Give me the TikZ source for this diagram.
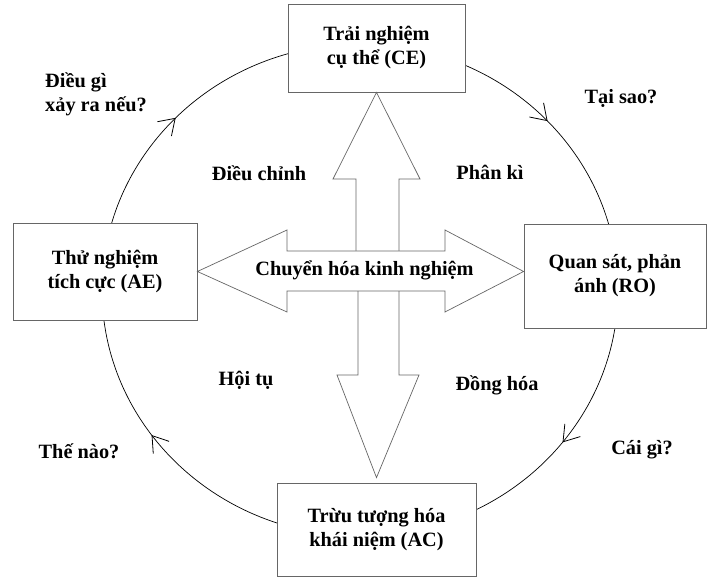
\documentclass[tikz,border=0pt]{standalone}
\usepackage{fontspec}
\setmainfont{Liberation Serif}
\usetikzlibrary{decorations.markings}

\newcommand{\cyctip}{\draw[line width=0.8pt,transform shape] (15pt,10pt) -- (0pt,0pt) -- (15pt,-10pt);}

\begin{document}
\begin{tikzpicture}[x=1pt,y=1pt,
 stage/.style={draw=black!60,fill=white,line width=0.8pt,align=center,font=\fontsize{20.3}{24}\selectfont\bfseries},
 lbl/.style={align=center,inner sep=0pt,font=\fontsize{20.3}{24}\selectfont\bfseries},
 bigarrow/.style={draw=black!60,fill=white,line width=0.7pt},
 cycle/.style={line width=0.7pt,postaction={decorate},decoration={markings,
   mark=at position 0.119 with {\cyctip},
   mark=at position 0.379 with {\cyctip},
   mark=at position 0.599 with {\cyctip},
   mark=at position 0.896 with {\cyctip}}}]
\useasboundingbox (0,0) rectangle (709,577);
% learning cycle
\draw[cycle] (360,287) ellipse [x radius=258,y radius=246];
\node[stage,minimum width=177pt,minimum height=88pt] (ce) at (376.5,529) {Trải nghiệm\\cụ thể (CE)};
\node[stage,minimum width=182pt,minimum height=104pt] (ro) at (615,301) {Quan sát, phản\\ánh (RO)};
\node[stage,minimum width=199pt,minimum height=93pt] (ac) at (376.5,47.5) {Trừu tượng hóa\\khái niệm (AC)};
\node[stage,minimum width=184pt,minimum height=97pt] (ae) at (105,305.5) {Thử nghiệm\\tích cực (AE)};
% cross arrows
\draw[bigarrow] (356,326) -- (356,398) -- (333,398) -- (ce.south) -- (420,398) -- (399,398) -- (399,326);
\draw[bigarrow] (358,286) -- (358,202) -- (337,202) -- ([yshift=5pt]ac.north) -- (419,202) -- (399,202) -- (399,286);
\draw[bigarrow] (ae.east) -- (287,347) -- (287,326) -- (445,326) -- (445,347) -- (ro.west |- ae.east)
  -- (445,265) -- (445,286) -- (287,286) -- (287,265) -- cycle;
\node[lbl] (hub) at (364.5,307) {Chuyển hóa kinh nghiệm};
% labels
\node[lbl] (dc) at (259,404) {Điều chỉnh};
\node[lbl] (pk) at (490,405) {Phân kì};
\node[lbl] (ht) at (246,197) {Hội tụ};
\node[lbl] (dh) at (497,192) {Đồng hóa};
\node[lbl] (ts) at (621,479) {Tại sao?};
\node[lbl] (tn) at (79,126) {Thế nào?};
\node[lbl] (cg) at (642,127) {Cái gì?};
\node[lbl,align=left,anchor=west] (dg) at (45,482.5) {Điều gì\\xảy ra nếu?};
\end{tikzpicture}
\end{document}
